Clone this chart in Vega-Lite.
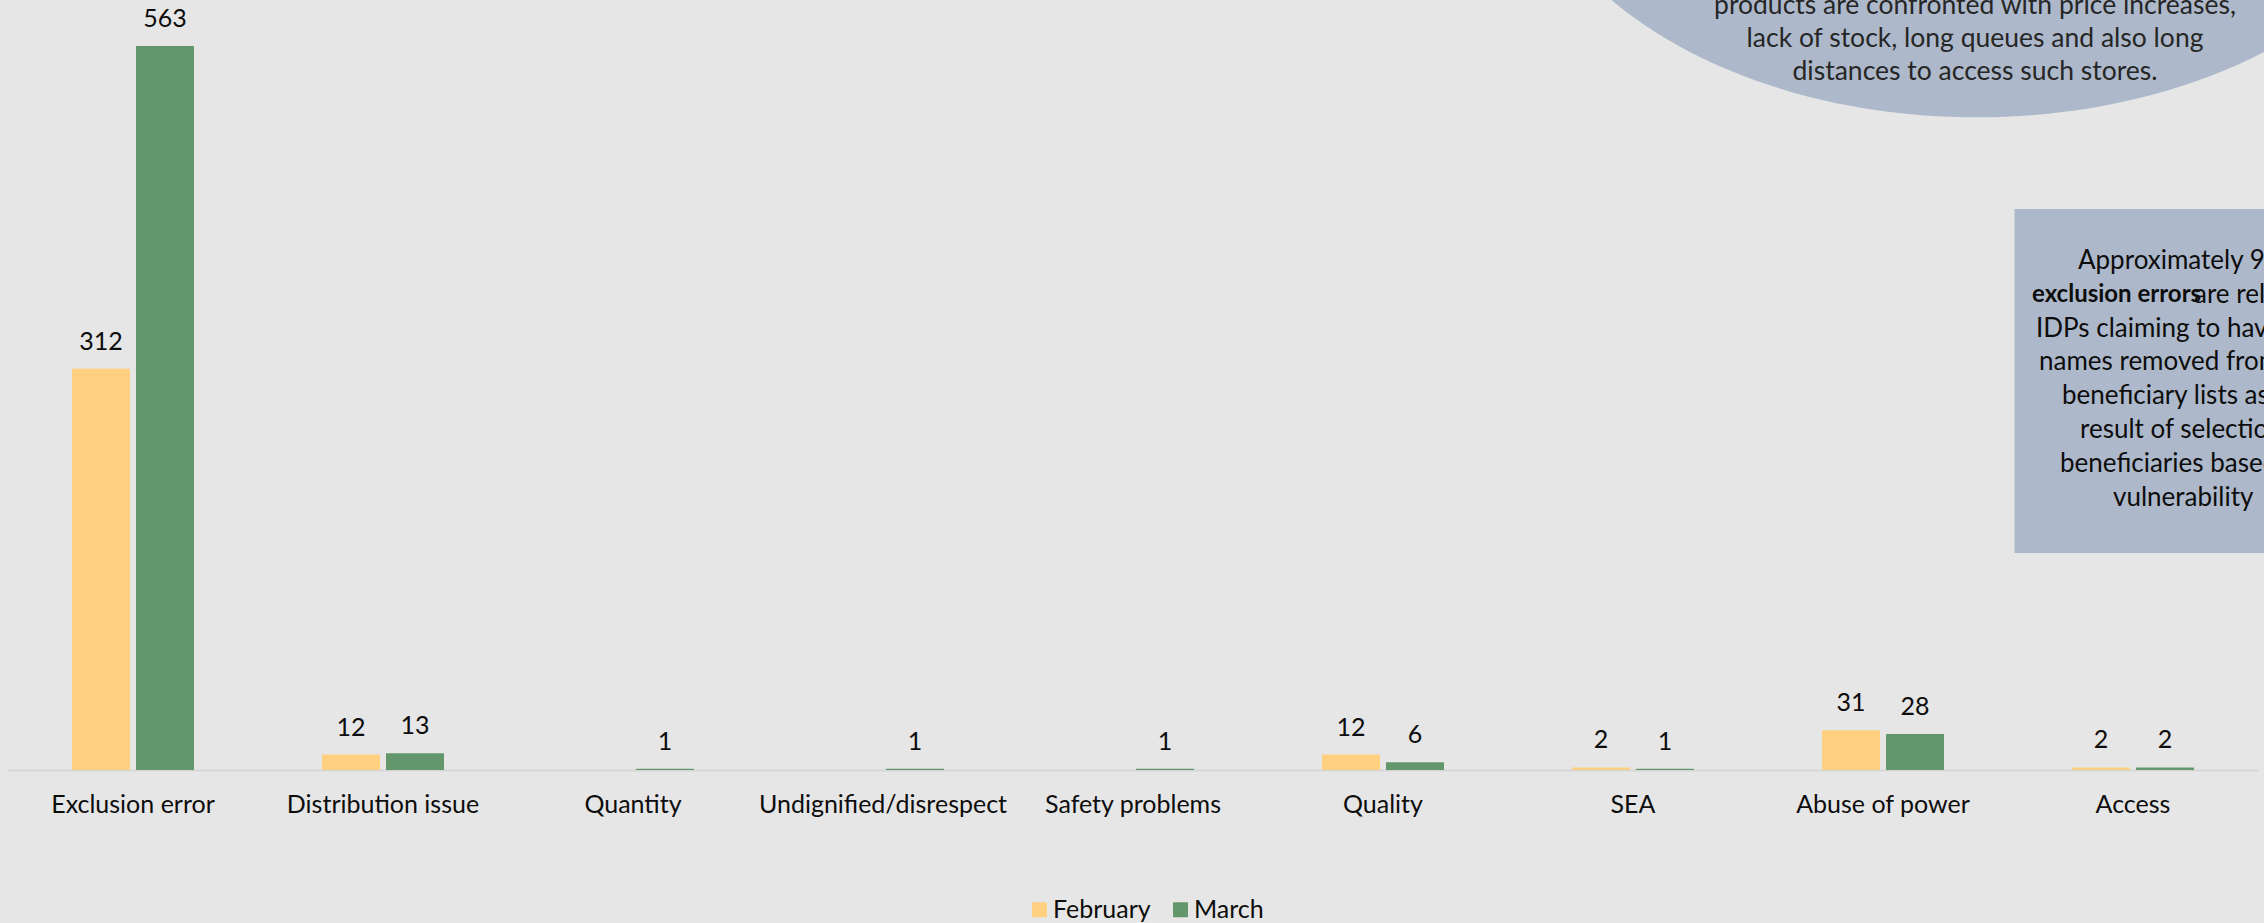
{
  "$schema": "https://vega.github.io/schema/vega-lite/v6.json",
  "width": 2250,
  "height": 770,
  "autosize": {"type": "none"},
  "padding": {"left": 8, "top": 0, "right": 6, "bottom": 153},
  "background": "#e6e6e6",
  "config": {
    "view": {"stroke": null},
    "font": "Lato",
    "axis": {"labelFont": "Lato"},
    "legend": {"labelFont": "Lato"}
  },
  "datasets": {
    "bars": [
      {"cat": "Exclusion error", "month": "February", "v": 312},
      {"cat": "Exclusion error", "month": "March", "v": 563},
      {"cat": "Distribution issue", "month": "February", "v": 12},
      {"cat": "Distribution issue", "month": "March", "v": 13},
      {"cat": "Quantity", "month": "March", "v": 1},
      {"cat": "Undignified/disrespect", "month": "March", "v": 1},
      {"cat": "Safety problems", "month": "March", "v": 1},
      {"cat": "Quality", "month": "February", "v": 12},
      {"cat": "Quality", "month": "March", "v": 6},
      {"cat": "SEA", "month": "February", "v": 2},
      {"cat": "SEA", "month": "March", "v": 1},
      {"cat": "Abuse of power", "month": "February", "v": 31},
      {"cat": "Abuse of power", "month": "March", "v": 28},
      {"cat": "Access", "month": "February", "v": 2},
      {"cat": "Access", "month": "March", "v": 2}
    ]
  },
  "encoding": {
    "x": {
      "field": "cat",
      "type": "nominal",
      "sort": null,
      "scale": {
        "domain": ["Exclusion error", "Distribution issue", "Quantity", "Undignified/disrespect", "Safety problems", "Quality", "SEA", "Abuse of power", "Access"],
        "paddingInner": 0.5,
        "paddingOuter": 0.25
      },
      "axis": {
        "title": null,
        "labelAngle": 0,
        "labelLimit": 0,
        "ticks": false,
        "labelPadding": 22,
        "labelFontSize": 25,
        "labelColor": "#0d0d0d",
        "domainColor": "#d6d6d6",
        "domainWidth": 2,
        "grid": false
      }
    },
    "y": {
      "field": "v",
      "type": "quantitative",
      "scale": {"domain": [0, 598.8], "nice": false, "zero": true},
      "axis": null
    }
  },
  "layer": [
    {
      "data": {"name": "bars"},
      "mark": {"type": "bar"},
      "encoding": {
        "xOffset": {
          "field": "month",
          "type": "nominal",
          "scale": {"domain": ["February", "March"], "paddingInner": 0.094, "paddingOuter": 0.0234}
        },
        "color": {
          "field": "month",
          "type": "nominal",
          "scale": {"domain": ["February", "March"], "range": ["#fed07f", "#63976b"]},
          "legend": {
            "title": null,
            "orient": "none",
            "legendX": 1019,
            "legendY": 897,
            "direction": "horizontal",
            "symbolType": "square",
            "symbolSize": 225,
            "symbolStrokeWidth": 0,
            "labelFontSize": 25,
            "labelColor": "#0d0d0d",
            "labelOffset": 1,
            "columnPadding": 17,
            "padding": 0
          }
        }
      }
    },
    {
      "data": {"name": "bars"},
      "mark": {"type": "text", "dy": -27, "baseline": "middle", "fontSize": 25, "color": "#0d0d0d"},
      "encoding": {
        "xOffset": {
          "field": "month",
          "type": "nominal",
          "scale": {"domain": ["February", "March"], "paddingInner": 0.094, "paddingOuter": 0.0234}
        },
        "text": {"field": "v", "type": "quantitative"}
      }
    },
    {
      "data": {"values": [{"cat": "Abuse of power", "v": 741}]},
      "mark": {
        "type": "point",
        "shape": "M-1,0A1,0.651,0,1,0,1,0A1,0.651,0,1,0,-1,0Z",
        "size": 850084,
        "filled": true,
        "color": "#adb9ca",
        "opacity": 1,
        "strokeWidth": 0,
        "xOffset": 94
      }
    },
    {
      "data": {"values": [
        {"cat": "Abuse of power", "v": 594.3, "t": "products are confronted with price increases,"},
        {"cat": "Abuse of power", "v": 568.5, "t": "lack of stock, long queues and also long"},
        {"cat": "Abuse of power", "v": 542.8, "t": "distances to access such stores."}
      ]},
      "mark": {"type": "text", "align": "center", "baseline": "middle", "dx": 92, "fontSize": 26.5, "color": "#262626"},
      "encoding": {"text": {"field": "t"}}
    },
    {
      "data": {"values": [{"cat": "Access", "v": 436.2, "v2": 168.7}]},
      "mark": {"type": "bar", "width": 341, "xOffset": 52, "color": "#adb9ca"},
      "encoding": {"y2": {"field": "v2"}}
    },
    {
      "data": {"values": [{"cat": "Access", "v": 395.8, "t": "Approximately 90%"}]},
      "mark": {"type": "text", "align": "left", "baseline": "middle", "dx": -55, "fontSize": 26, "color": "#0d0d0d"},
      "encoding": {"text": {"field": "t"}}
    },
    {
      "data": {"values": [{"cat": "Access", "v": 369.5, "t": "exclusion errors"}]},
      "mark": {"type": "text", "align": "left", "baseline": "middle", "dx": -101, "fontSize": 24, "fontWeight": "bold", "color": "#0d0d0d"},
      "encoding": {"text": {"field": "t"}}
    },
    {
      "data": {"values": [{"cat": "Access", "v": 369.5, "t": "are related to"}]},
      "mark": {"type": "text", "align": "left", "baseline": "middle", "dx": 61, "fontSize": 26, "color": "#0d0d0d"},
      "encoding": {"text": {"field": "t"}}
    },
    {
      "data": {"values": [{"cat": "Access", "v": 343.2, "t": "IDPs claiming to have their"}]},
      "mark": {"type": "text", "align": "left", "baseline": "middle", "dx": -97, "fontSize": 26, "color": "#0d0d0d"},
      "encoding": {"text": {"field": "t"}}
    },
    {
      "data": {"values": [{"cat": "Access", "v": 316.9, "t": "names removed  from the"}]},
      "mark": {"type": "text", "align": "left", "baseline": "middle", "dx": -94, "fontSize": 26, "color": "#0d0d0d"},
      "encoding": {"text": {"field": "t"}}
    },
    {
      "data": {"values": [{"cat": "Access", "v": 290.6, "t": "beneficiary lists as a"}]},
      "mark": {"type": "text", "align": "left", "baseline": "middle", "dx": -71, "fontSize": 26, "color": "#0d0d0d"},
      "encoding": {"text": {"field": "t"}}
    },
    {
      "data": {"values": [{"cat": "Access", "v": 264.4, "t": "result of selection of"}]},
      "mark": {"type": "text", "align": "left", "baseline": "middle", "dx": -53, "fontSize": 26, "color": "#0d0d0d"},
      "encoding": {"text": {"field": "t"}}
    },
    {
      "data": {"values": [{"cat": "Access", "v": 238.1, "t": "beneficiaries based on"}]},
      "mark": {"type": "text", "align": "left", "baseline": "middle", "dx": -73, "fontSize": 26, "color": "#0d0d0d"},
      "encoding": {"text": {"field": "t"}}
    },
    {
      "data": {"values": [{"cat": "Access", "v": 211.8, "t": "vulnerability"}]},
      "mark": {"type": "text", "align": "left", "baseline": "middle", "dx": -20, "fontSize": 26, "color": "#0d0d0d"},
      "encoding": {"text": {"field": "t"}}
    }
  ]
}
